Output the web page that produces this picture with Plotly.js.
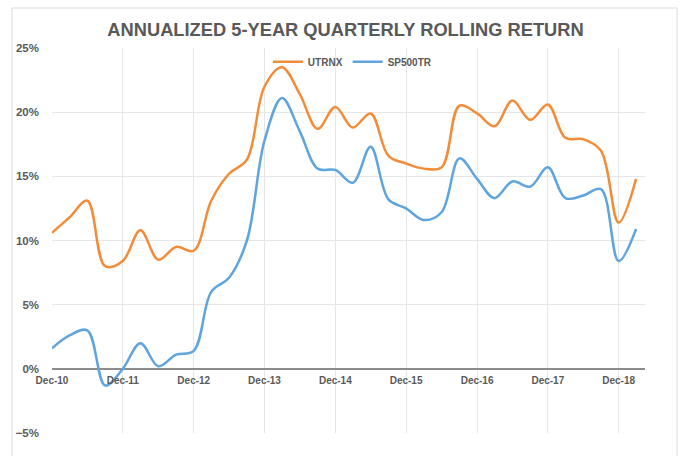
<!DOCTYPE html>
<html>
<head>
<meta charset="utf-8">
<script src="https://cdn.plot.ly/plotly-3.0.1.min.js"></script>
<style>
  html, body { margin: 0; padding: 0; background: #fff; }
  #chart { width: 680px; height: 456px; }
</style>
</head>
<body>
<div id="chart"></div>
<script>
// Quarter-end dates (Dec-10 .. Mar-19)
const quarters = [
  '2010-12-01','2011-03-01','2011-06-01','2011-09-01',
  '2011-12-01','2012-03-01','2012-06-01','2012-09-01',
  '2012-12-01','2013-03-01','2013-06-01','2013-09-01',
  '2013-12-01','2014-03-01','2014-06-01','2014-09-01',
  '2014-12-01','2015-03-01','2015-06-01','2015-09-01',
  '2015-12-01','2016-03-01','2016-06-01','2016-09-01',
  '2016-12-01','2017-03-01','2017-06-01','2017-09-01',
  '2017-12-01','2018-03-01','2018-06-01','2018-09-01',
  '2018-12-01','2019-03-01'
];

// Annualized 5-year rolling return (%)
const utrnx = [
  10.6, 11.8, 13.1, 8.0,
  8.4, 10.8, 8.5, 9.5,
  9.2, 13.1, 15.2, 16.3,
  22.0, 23.5, 21.4, 18.7,
  20.4, 18.8, 19.9, 16.6,
  16.0, 15.6, 15.7, 20.5,
  19.9, 18.9, 20.9, 19.4,
  20.6, 18.0, 17.9, 17.0,
  11.4, 14.8
];

const sp500tr = [
  1.6, 2.6, 3.0, -1.3,
  0.0, 2.0, 0.2, 1.1,
  1.4, 6.0, 7.1, 10.0,
  17.8, 21.1, 18.5, 15.6,
  15.5, 14.5, 17.3, 13.2,
  12.5, 11.6, 12.2, 16.4,
  14.8, 13.3, 14.6, 14.2,
  15.7, 13.3, 13.5, 14.0,
  8.4, 10.9
];

const seriesNames = ['UTRNX', 'SP500TR'];
const titleText = 'ANNUALIZED 5-YEAR QUARTERLY ROLLING RETURN';

const gray = '#595959';
const fontFam = '"Liberation Sans", Arial, sans-serif';

const traces = [
  {
    x: quarters, y: utrnx, name: seriesNames[0], type: 'scatter', mode: 'lines',
    line: { color: '#F28C38', width: 2.5, shape: 'spline', smoothing: 1 },
    hoverinfo: 'skip'
  },
  {
    x: quarters, y: sp500tr, name: seriesNames[1], type: 'scatter', mode: 'lines',
    line: { color: '#5FA4DC', width: 2.5, shape: 'spline', smoothing: 1 },
    hoverinfo: 'skip'
  }
];

const layout = {
  width: 680, height: 456,
  margin: { l: 52, r: 35, t: 48, b: 23, pad: 0 },
  paper_bgcolor: '#ffffff', plot_bgcolor: '#ffffff',
  font: { family: fontFam, color: gray },
  title: {
    text: '<b>' + titleText + '</b>',
    font: { family: fontFam, size: 18.3, color: gray },
    xref: 'paper', x: 0.495, xanchor: 'center',
    yref: 'container', y: 1 - 30 / 456, yanchor: 'middle'
  },
  showlegend: true,
  legend: {
    orientation: 'h', x: 0.364, xanchor: 'left', y: 0.964, yanchor: 'middle',
    bgcolor: 'rgba(0,0,0,0)', font: { family: fontFam, size: 10, color: gray, weight: 'bold' },
    itemwidth: 30, tracegroupgap: 0
  },
  xaxis: {
    type: 'date',
    range: ['2010-12-01', '2019-04-16'],
    tick0: '2010-12-01', dtick: 'M12', tickformat: '%b-%y',
    anchor: 'free', position: (433 - 368.7) / 385,
    showgrid: true, gridcolor: '#e6e6e6', gridwidth: 1,
    showline: false, zeroline: false, ticks: '', ticklabelstandoff: 4,
    tickfont: { family: fontFam, size: 10, color: gray, weight: 'bold' }
  },
  yaxis: {
    range: [-5, 25], dtick: 5, ticksuffix: '%',
    showgrid: true, gridcolor: '#e6e6e6', gridwidth: 1,
    zeroline: true, zerolinecolor: '#8c8c8c', zerolinewidth: 2,
    showline: false, ticks: '', ticklabelstandoff: 12,
    tickfont: { family: fontFam, size: 11.5, color: gray, weight: 'bold' }
  },
  shapes: [
    {
      type: 'rect', xref: 'paper', yref: 'paper',
      x0: (12 - 52) / 593, x1: (677 - 52) / 593,
      y0: (433 - 475) / 385, y1: (433 - 8) / 385,
      line: { color: '#d9d9d9', width: 1 }, fillcolor: 'rgba(0,0,0,0)', layer: 'below'
    }
  ]
};

Plotly.newPlot('chart', traces, layout, { displayModeBar: false, staticPlot: true });
</script>
</body>
</html>
